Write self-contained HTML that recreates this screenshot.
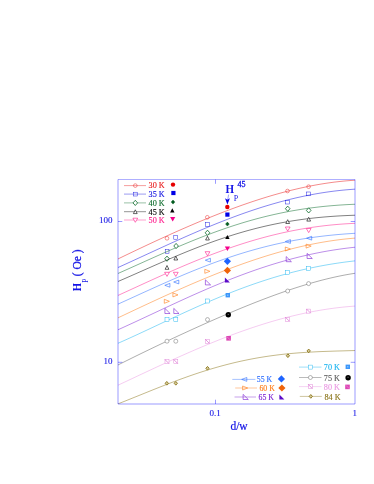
<!DOCTYPE html><html><head><meta charset="utf-8"><title>chart</title><style>html,body{margin:0;padding:0;background:#fff}svg text{white-space:pre}svg{will-change:transform;opacity:0.999}</style></head><body><svg width="374" height="484" viewBox="0 0 374 484" style="display:block">
<rect width="374" height="484" fill="#fff"/>
<defs><clipPath id="cp"><rect x="118.0" y="179.5" width="237.0" height="224.5"/></clipPath></defs>
<path d="M118.0 258.94L121.0 257.49L124.0 256.04L127.0 254.60L130.0 253.16L133.0 251.73L136.0 250.30L139.0 248.87L142.0 247.46L145.0 246.04L148.0 244.64L151.0 243.23L154.0 241.84L157.0 240.45L160.0 239.07L163.0 237.70L166.0 236.33L169.0 234.97L172.0 233.62L175.0 232.28L178.0 230.95L181.0 229.62L184.0 228.31L187.0 227.01L190.0 225.71L193.0 224.43L196.0 223.15L199.0 221.89L202.0 220.64L205.0 219.40L208.0 218.17L211.0 216.96L214.0 215.76L217.0 214.57L220.0 213.39L223.0 212.23L226.0 211.08L229.0 209.95L232.0 208.83L235.0 207.72L238.0 206.63L241.0 205.56L244.0 204.50L247.0 203.46L250.0 202.44L253.0 201.43L256.0 200.44L259.0 199.47L262.0 198.52L265.0 197.59L268.0 196.67L271.0 195.78L274.0 194.90L277.0 194.05L280.0 193.21L283.0 192.40L286.0 191.61L289.0 190.84L292.0 190.09L295.0 189.36L298.0 188.66L301.0 187.98L304.0 187.33L307.0 186.69L310.0 186.09L313.0 185.51L316.0 184.95L319.0 184.42L322.0 183.92L325.0 183.44L328.0 182.99L331.0 182.57L334.0 182.17L337.0 181.81L340.0 181.47L343.0 181.16L346.0 180.88L349.0 180.63L352.0 180.42L355.0 180.23" stroke="#e81818" stroke-width="0.5" fill="none" clip-path="url(#cp)"/>
<circle cx="167.00" cy="238.30" r="1.85" fill="none" stroke="#e81818" stroke-width="0.45"/>
<circle cx="207.30" cy="217.30" r="1.85" fill="none" stroke="#e81818" stroke-width="0.45"/>
<circle cx="287.50" cy="191.00" r="1.85" fill="none" stroke="#e81818" stroke-width="0.45"/>
<circle cx="308.60" cy="186.70" r="1.85" fill="none" stroke="#e81818" stroke-width="0.45"/>
<path d="M118.0 267.52L121.0 266.17L124.0 264.80L127.0 263.44L130.0 262.07L133.0 260.69L136.0 259.31L139.0 257.93L142.0 256.55L145.0 255.17L148.0 253.78L151.0 252.40L154.0 251.02L157.0 249.64L160.0 248.26L163.0 246.89L166.0 245.52L169.0 244.15L172.0 242.79L175.0 241.44L178.0 240.09L181.0 238.75L184.0 237.42L187.0 236.09L190.0 234.78L193.0 233.47L196.0 232.18L199.0 230.89L202.0 229.61L205.0 228.35L208.0 227.10L211.0 225.86L214.0 224.64L217.0 223.42L220.0 222.23L223.0 221.04L226.0 219.88L229.0 218.72L232.0 217.59L235.0 216.47L238.0 215.37L241.0 214.28L244.0 213.21L247.0 212.16L250.0 211.13L253.0 210.12L256.0 209.13L259.0 208.15L262.0 207.20L265.0 206.27L268.0 205.36L271.0 204.47L274.0 203.60L277.0 202.75L280.0 201.92L283.0 201.12L286.0 200.34L289.0 199.58L292.0 198.85L295.0 198.14L298.0 197.45L301.0 196.79L304.0 196.15L307.0 195.53L310.0 194.94L313.0 194.38L316.0 193.84L319.0 193.32L322.0 192.84L325.0 192.37L328.0 191.93L331.0 191.52L334.0 191.13L337.0 190.77L340.0 190.44L343.0 190.13L346.0 189.85L349.0 189.60L352.0 189.37L355.0 189.17" stroke="#1010e0" stroke-width="0.5" fill="none" clip-path="url(#cp)"/>
<rect x="165.20" y="249.40" width="3.8" height="3.8" fill="none" stroke="#1010e0" stroke-width="0.45"/>
<rect x="173.80" y="235.40" width="3.8" height="3.8" fill="none" stroke="#1010e0" stroke-width="0.45"/>
<rect x="205.60" y="222.60" width="3.8" height="3.8" fill="none" stroke="#1010e0" stroke-width="0.45"/>
<rect x="285.60" y="200.20" width="3.8" height="3.8" fill="none" stroke="#1010e0" stroke-width="0.45"/>
<rect x="306.70" y="192.00" width="3.8" height="3.8" fill="none" stroke="#1010e0" stroke-width="0.45"/>
<path d="M118.0 273.48L121.0 272.15L124.0 270.81L127.0 269.47L130.0 268.13L133.0 266.78L136.0 265.43L139.0 264.08L142.0 262.73L145.0 261.37L148.0 260.02L151.0 258.68L154.0 257.33L157.0 255.99L160.0 254.66L163.0 253.33L166.0 252.01L169.0 250.69L172.0 249.39L175.0 248.09L178.0 246.81L181.0 245.54L184.0 244.27L187.0 243.02L190.0 241.79L193.0 240.56L196.0 239.36L199.0 238.16L202.0 236.98L205.0 235.82L208.0 234.68L211.0 233.55L214.0 232.44L217.0 231.35L220.0 230.27L223.0 229.22L226.0 228.18L229.0 227.17L232.0 226.17L235.0 225.20L238.0 224.25L241.0 223.31L244.0 222.40L247.0 221.51L250.0 220.65L253.0 219.80L256.0 218.98L259.0 218.18L262.0 217.40L265.0 216.65L268.0 215.91L271.0 215.21L274.0 214.52L277.0 213.86L280.0 213.22L283.0 212.60L286.0 212.00L289.0 211.43L292.0 210.89L295.0 210.36L298.0 209.86L301.0 209.38L304.0 208.92L307.0 208.48L310.0 208.07L313.0 207.67L316.0 207.30L319.0 206.95L322.0 206.62L325.0 206.31L328.0 206.02L331.0 205.75L334.0 205.50L337.0 205.27L340.0 205.05L343.0 204.86L346.0 204.68L349.0 204.52L352.0 204.38L355.0 204.25" stroke="#0a6a2a" stroke-width="0.5" fill="none" clip-path="url(#cp)"/>
<path d="M164.70 258.70L167.00 256.10L169.30 258.70L167.00 261.30Z" fill="#fff" stroke="#0a6a2a" stroke-width="0.8"/>
<path d="M173.80 246.00L176.10 243.40L178.40 246.00L176.10 248.60Z" fill="#fff" stroke="#0a6a2a" stroke-width="0.8"/>
<path d="M205.20 232.80L207.50 230.20L209.80 232.80L207.50 235.40Z" fill="#fff" stroke="#0a6a2a" stroke-width="0.8"/>
<path d="M285.40 208.70L287.70 206.10L290.00 208.70L287.70 211.30Z" fill="#fff" stroke="#0a6a2a" stroke-width="0.8"/>
<path d="M306.40 210.40L308.70 207.80L311.00 210.40L308.70 213.00Z" fill="#fff" stroke="#0a6a2a" stroke-width="0.8"/>
<path d="M118.0 281.49L121.0 280.20L124.0 278.90L127.0 277.59L130.0 276.27L133.0 274.95L136.0 273.63L139.0 272.30L142.0 270.98L145.0 269.65L148.0 268.32L151.0 267.00L154.0 265.68L157.0 264.36L160.0 263.05L163.0 261.74L166.0 260.44L169.0 259.15L172.0 257.87L175.0 256.60L178.0 255.34L181.0 254.09L184.0 252.85L187.0 251.62L190.0 250.41L193.0 249.22L196.0 248.04L199.0 246.87L202.0 245.72L205.0 244.59L208.0 243.47L211.0 242.38L214.0 241.30L217.0 240.24L220.0 239.21L223.0 238.19L226.0 237.19L229.0 236.21L232.0 235.26L235.0 234.32L238.0 233.41L241.0 232.52L244.0 231.66L247.0 230.81L250.0 229.99L253.0 229.19L256.0 228.42L259.0 227.67L262.0 226.94L265.0 226.23L268.0 225.55L271.0 224.90L274.0 224.26L277.0 223.65L280.0 223.06L283.0 222.50L286.0 221.96L289.0 221.44L292.0 220.95L295.0 220.48L298.0 220.03L301.0 219.60L304.0 219.19L307.0 218.81L310.0 218.44L313.0 218.10L316.0 217.78L319.0 217.48L322.0 217.20L325.0 216.93L328.0 216.69L331.0 216.46L334.0 216.25L337.0 216.06L340.0 215.88L343.0 215.72L346.0 215.58L349.0 215.44L352.0 215.33L355.0 215.22" stroke="#000000" stroke-width="0.5" fill="none" clip-path="url(#cp)"/>
<path d="M165.10 269.30L168.90 269.30L167.00 265.50Z" fill="#fff" stroke="#000000" stroke-width="0.6"/>
<path d="M173.90 260.00L177.70 260.00L175.80 256.20Z" fill="#fff" stroke="#000000" stroke-width="0.6"/>
<path d="M205.60 240.00L209.40 240.00L207.50 236.20Z" fill="#fff" stroke="#000000" stroke-width="0.6"/>
<path d="M285.80 223.50L289.60 223.50L287.70 219.70Z" fill="#fff" stroke="#000000" stroke-width="0.6"/>
<path d="M306.80 221.10L310.60 221.10L308.70 217.30Z" fill="#fff" stroke="#000000" stroke-width="0.6"/>
<path d="M118.0 295.44L121.0 294.07L124.0 292.70L127.0 291.33L130.0 289.95L133.0 288.57L136.0 287.19L139.0 285.82L142.0 284.44L145.0 283.07L148.0 281.70L151.0 280.33L154.0 278.97L157.0 277.61L160.0 276.26L163.0 274.92L166.0 273.58L169.0 272.25L172.0 270.93L175.0 269.62L178.0 268.31L181.0 267.02L184.0 265.74L187.0 264.47L190.0 263.22L193.0 261.97L196.0 260.74L199.0 259.53L202.0 258.32L205.0 257.14L208.0 255.96L211.0 254.81L214.0 253.67L217.0 252.54L220.0 251.44L223.0 250.35L226.0 249.28L229.0 248.22L232.0 247.19L235.0 246.17L238.0 245.18L241.0 244.20L244.0 243.24L247.0 242.31L250.0 241.39L253.0 240.50L256.0 239.62L259.0 238.77L262.0 237.94L265.0 237.13L268.0 236.34L271.0 235.57L274.0 234.83L277.0 234.11L280.0 233.41L283.0 232.73L286.0 232.08L289.0 231.45L292.0 230.84L295.0 230.25L298.0 229.69L301.0 229.15L304.0 228.64L307.0 228.14L310.0 227.67L313.0 227.23L316.0 226.80L319.0 226.40L322.0 226.02L325.0 225.67L328.0 225.34L331.0 225.03L334.0 224.74L337.0 224.47L340.0 224.23L343.0 224.01L346.0 223.81L349.0 223.63L352.0 223.48L355.0 223.34" stroke="#ff1a8c" stroke-width="0.5" fill="none" clip-path="url(#cp)"/>
<path d="M164.60 272.30L169.40 272.30L167.00 276.40Z" fill="#fff" stroke="#ff1a8c" stroke-width="0.6"/>
<path d="M173.40 272.30L178.20 272.30L175.80 276.40Z" fill="#fff" stroke="#ff1a8c" stroke-width="0.6"/>
<path d="M205.10 251.70L209.90 251.70L207.50 255.80Z" fill="#fff" stroke="#ff1a8c" stroke-width="0.6"/>
<path d="M285.30 227.00L290.10 227.00L287.70 231.10Z" fill="#fff" stroke="#ff1a8c" stroke-width="0.6"/>
<path d="M306.30 228.50L311.10 228.50L308.70 232.60Z" fill="#fff" stroke="#ff1a8c" stroke-width="0.6"/>
<path d="M118.0 304.13L121.0 302.77L124.0 301.41L127.0 300.05L130.0 298.68L133.0 297.31L136.0 295.94L139.0 294.57L142.0 293.20L145.0 291.84L148.0 290.47L151.0 289.12L154.0 287.76L157.0 286.41L160.0 285.07L163.0 283.73L166.0 282.41L169.0 281.09L172.0 279.78L175.0 278.48L178.0 277.19L181.0 275.91L184.0 274.64L187.0 273.39L190.0 272.15L193.0 270.92L196.0 269.71L199.0 268.51L202.0 267.33L205.0 266.17L208.0 265.02L211.0 263.89L214.0 262.77L217.0 261.68L220.0 260.60L223.0 259.54L226.0 258.50L229.0 257.47L232.0 256.47L235.0 255.49L238.0 254.53L241.0 253.58L244.0 252.66L247.0 251.76L250.0 250.88L253.0 250.02L256.0 249.19L259.0 248.37L262.0 247.58L265.0 246.81L268.0 246.06L271.0 245.33L274.0 244.62L277.0 243.93L280.0 243.27L283.0 242.63L286.0 242.01L289.0 241.41L292.0 240.83L295.0 240.28L298.0 239.75L301.0 239.23L304.0 238.74L307.0 238.27L310.0 237.82L313.0 237.39L316.0 236.98L319.0 236.59L322.0 236.22L325.0 235.86L328.0 235.53L331.0 235.22L334.0 234.92L337.0 234.64L340.0 234.38L343.0 234.13L346.0 233.90L349.0 233.69L352.0 233.49L355.0 233.31" stroke="#2a6cff" stroke-width="0.5" fill="none" clip-path="url(#cp)"/>
<path d="M169.90 283.40L169.90 287.20L164.80 285.30Z" fill="none" stroke="#2a6cff" stroke-width="0.6"/>
<path d="M178.80 280.10L178.80 283.90L173.70 282.00Z" fill="none" stroke="#2a6cff" stroke-width="0.6"/>
<path d="M210.40 258.30L210.40 262.10L205.30 260.20Z" fill="none" stroke="#2a6cff" stroke-width="0.6"/>
<path d="M290.40 239.60L290.40 243.40L285.30 241.50Z" fill="none" stroke="#2a6cff" stroke-width="0.6"/>
<path d="M311.70 236.30L311.70 240.10L306.60 238.20Z" fill="none" stroke="#2a6cff" stroke-width="0.6"/>
<path d="M118.0 317.84L121.0 316.42L124.0 315.00L127.0 313.58L130.0 312.17L133.0 310.75L136.0 309.34L139.0 307.93L142.0 306.52L145.0 305.12L148.0 303.72L151.0 302.33L154.0 300.94L157.0 299.56L160.0 298.18L163.0 296.81L166.0 295.44L169.0 294.08L172.0 292.73L175.0 291.38L178.0 290.05L181.0 288.72L184.0 287.40L187.0 286.09L190.0 284.78L193.0 283.49L196.0 282.21L199.0 280.94L202.0 279.68L205.0 278.43L208.0 277.19L211.0 275.97L214.0 274.75L217.0 273.55L220.0 272.37L223.0 271.19L226.0 270.03L229.0 268.89L232.0 267.76L235.0 266.64L238.0 265.54L241.0 264.46L244.0 263.39L247.0 262.34L250.0 261.30L253.0 260.28L256.0 259.28L259.0 258.30L262.0 257.33L265.0 256.38L268.0 255.45L271.0 254.54L274.0 253.65L277.0 252.78L280.0 251.93L283.0 251.10L286.0 250.29L289.0 249.50L292.0 248.74L295.0 247.99L298.0 247.27L301.0 246.57L304.0 245.89L307.0 245.23L310.0 244.60L313.0 243.99L316.0 243.41L319.0 242.84L322.0 242.31L325.0 241.80L328.0 241.31L331.0 240.85L334.0 240.41L337.0 240.00L340.0 239.62L343.0 239.26L346.0 238.93L349.0 238.63L352.0 238.36L355.0 238.11" stroke="#ff7a14" stroke-width="0.5" fill="none" clip-path="url(#cp)"/>
<path d="M164.30 299.30L164.30 303.30L169.40 301.30Z" fill="none" stroke="#ff7a14" stroke-width="0.6"/>
<path d="M172.90 292.90L172.90 296.90L178.00 294.90Z" fill="none" stroke="#ff7a14" stroke-width="0.6"/>
<path d="M204.80 269.30L204.80 273.30L209.90 271.30Z" fill="none" stroke="#ff7a14" stroke-width="0.6"/>
<path d="M285.30 247.00L285.30 251.00L290.40 249.00Z" fill="none" stroke="#ff7a14" stroke-width="0.6"/>
<path d="M306.10 244.10L306.10 248.10L311.20 246.10Z" fill="none" stroke="#ff7a14" stroke-width="0.6"/>
<path d="M118.0 329.76L121.0 328.41L124.0 327.04L127.0 325.67L130.0 324.29L133.0 322.91L136.0 321.52L139.0 320.12L142.0 318.72L145.0 317.32L148.0 315.92L151.0 314.52L154.0 313.11L157.0 311.71L160.0 310.30L163.0 308.90L166.0 307.50L169.0 306.11L172.0 304.71L175.0 303.33L178.0 301.95L181.0 300.57L184.0 299.20L187.0 297.84L190.0 296.48L193.0 295.14L196.0 293.80L199.0 292.48L202.0 291.16L205.0 289.86L208.0 288.56L211.0 287.28L214.0 286.01L217.0 284.75L220.0 283.51L223.0 282.28L226.0 281.07L229.0 279.87L232.0 278.68L235.0 277.52L238.0 276.36L241.0 275.23L244.0 274.11L247.0 273.01L250.0 271.93L253.0 270.86L256.0 269.81L259.0 268.79L262.0 267.78L265.0 266.79L268.0 265.82L271.0 264.87L274.0 263.94L277.0 263.04L280.0 262.15L283.0 261.28L286.0 260.44L289.0 259.62L292.0 258.81L295.0 258.04L298.0 257.28L301.0 256.54L304.0 255.83L307.0 255.14L310.0 254.47L313.0 253.83L316.0 253.21L319.0 252.61L322.0 252.03L325.0 251.48L328.0 250.95L331.0 250.45L334.0 249.96L337.0 249.50L340.0 249.07L343.0 248.65L346.0 248.26L349.0 247.90L352.0 247.55L355.0 247.23" stroke="#7a1ed2" stroke-width="0.5" fill="none" clip-path="url(#cp)"/>
<path d="M164.90 308.40L164.90 313.50L170.10 313.50Z" fill="none" stroke="#7a1ed2" stroke-width="0.6"/>
<path d="M173.80 308.40L173.80 313.50L179.00 313.50Z" fill="none" stroke="#7a1ed2" stroke-width="0.6"/>
<path d="M205.40 279.80L205.40 284.90L210.60 284.90Z" fill="none" stroke="#7a1ed2" stroke-width="0.6"/>
<path d="M286.20 256.60L286.20 261.70L291.40 261.70Z" fill="none" stroke="#7a1ed2" stroke-width="0.6"/>
<path d="M307.10 253.40L307.10 258.50L312.30 258.50Z" fill="none" stroke="#7a1ed2" stroke-width="0.6"/>
<path d="M118.0 343.29L121.0 341.96L124.0 340.62L127.0 339.27L130.0 337.91L133.0 336.54L136.0 335.16L139.0 333.77L142.0 332.38L145.0 330.98L148.0 329.58L151.0 328.17L154.0 326.76L157.0 325.35L160.0 323.94L163.0 322.53L166.0 321.12L169.0 319.72L172.0 318.32L175.0 316.92L178.0 315.52L181.0 314.14L184.0 312.76L187.0 311.38L190.0 310.02L193.0 308.66L196.0 307.31L199.0 305.97L202.0 304.65L205.0 303.33L208.0 302.03L211.0 300.74L214.0 299.46L217.0 298.20L220.0 296.95L223.0 295.72L226.0 294.50L229.0 293.30L232.0 292.11L235.0 290.94L238.0 289.79L241.0 288.66L244.0 287.54L247.0 286.44L250.0 285.36L253.0 284.31L256.0 283.27L259.0 282.25L262.0 281.25L265.0 280.27L268.0 279.31L271.0 278.37L274.0 277.45L277.0 276.56L280.0 275.68L283.0 274.83L286.0 274.00L289.0 273.19L292.0 272.40L295.0 271.64L298.0 270.90L301.0 270.17L304.0 269.48L307.0 268.80L310.0 268.14L313.0 267.51L316.0 266.90L319.0 266.31L322.0 265.74L325.0 265.19L328.0 264.67L331.0 264.16L334.0 263.68L337.0 263.22L340.0 262.78L343.0 262.35L346.0 261.95L349.0 261.57L352.0 261.21L355.0 260.87" stroke="#1ab4f0" stroke-width="0.5" fill="none" clip-path="url(#cp)"/>
<rect x="165.00" y="317.60" width="4.0" height="4.0" fill="#fff" stroke="#1ab4f0" stroke-width="0.45"/>
<rect x="173.80" y="317.60" width="4.0" height="4.0" fill="#fff" stroke="#1ab4f0" stroke-width="0.45"/>
<rect x="205.50" y="299.00" width="4.0" height="4.0" fill="#fff" stroke="#1ab4f0" stroke-width="0.45"/>
<rect x="285.70" y="270.60" width="4.0" height="4.0" fill="#fff" stroke="#1ab4f0" stroke-width="0.45"/>
<rect x="306.60" y="266.60" width="4.0" height="4.0" fill="#fff" stroke="#1ab4f0" stroke-width="0.45"/>
<path d="M118.0 364.96L121.0 363.46L124.0 361.96L127.0 360.47L130.0 358.99L133.0 357.51L136.0 356.03L139.0 354.57L142.0 353.10L145.0 351.65L148.0 350.20L151.0 348.75L154.0 347.31L157.0 345.88L160.0 344.45L163.0 343.02L166.0 341.60L169.0 340.19L172.0 338.78L175.0 337.38L178.0 335.98L181.0 334.59L184.0 333.21L187.0 331.83L190.0 330.45L193.0 329.09L196.0 327.73L199.0 326.37L202.0 325.02L205.0 323.68L208.0 322.35L211.0 321.02L214.0 319.70L217.0 318.39L220.0 317.09L223.0 315.79L226.0 314.50L229.0 313.23L232.0 311.96L235.0 310.70L238.0 309.45L241.0 308.20L244.0 306.97L247.0 305.76L250.0 304.55L253.0 303.35L256.0 302.17L259.0 301.00L262.0 299.84L265.0 298.69L268.0 297.56L271.0 296.44L274.0 295.34L277.0 294.25L280.0 293.18L283.0 292.12L286.0 291.08L289.0 290.06L292.0 289.06L295.0 288.07L298.0 287.11L301.0 286.16L304.0 285.23L307.0 284.33L310.0 283.45L313.0 282.58L316.0 281.75L319.0 280.93L322.0 280.14L325.0 279.38L328.0 278.64L331.0 277.93L334.0 277.24L337.0 276.58L340.0 275.96L343.0 275.36L346.0 274.79L349.0 274.25L352.0 273.75L355.0 273.28" stroke="#5c5c5c" stroke-width="0.5" fill="none" clip-path="url(#cp)"/>
<circle cx="167.00" cy="341.20" r="2.0" fill="#fff" stroke="#5c5c5c" stroke-width="0.45"/>
<circle cx="175.80" cy="341.20" r="2.0" fill="#fff" stroke="#5c5c5c" stroke-width="0.45"/>
<circle cx="207.50" cy="319.60" r="2.0" fill="#fff" stroke="#5c5c5c" stroke-width="0.45"/>
<circle cx="287.70" cy="291.00" r="2.0" fill="#fff" stroke="#5c5c5c" stroke-width="0.45"/>
<circle cx="308.60" cy="283.60" r="2.0" fill="#fff" stroke="#5c5c5c" stroke-width="0.45"/>
<path d="M118.0 385.22L121.0 383.81L124.0 382.40L127.0 380.99L130.0 379.58L133.0 378.16L136.0 376.75L139.0 375.34L142.0 373.93L145.0 372.52L148.0 371.12L151.0 369.72L154.0 368.32L157.0 366.92L160.0 365.54L163.0 364.15L166.0 362.77L169.0 361.40L172.0 360.04L175.0 358.68L178.0 357.33L181.0 355.99L184.0 354.66L187.0 353.33L190.0 352.02L193.0 350.72L196.0 349.42L199.0 348.14L202.0 346.87L205.0 345.61L208.0 344.36L211.0 343.13L214.0 341.91L217.0 340.70L220.0 339.51L223.0 338.33L226.0 337.17L229.0 336.02L232.0 334.89L235.0 333.77L238.0 332.67L241.0 331.59L244.0 330.52L247.0 329.48L250.0 328.45L253.0 327.43L256.0 326.44L259.0 325.47L262.0 324.51L265.0 323.57L268.0 322.66L271.0 321.76L274.0 320.89L277.0 320.03L280.0 319.20L283.0 318.39L286.0 317.60L289.0 316.84L292.0 316.09L295.0 315.37L298.0 314.67L301.0 313.99L304.0 313.34L307.0 312.71L310.0 312.11L313.0 311.53L316.0 310.98L319.0 310.44L322.0 309.94L325.0 309.46L328.0 309.00L331.0 308.58L334.0 308.17L337.0 307.80L340.0 307.44L343.0 307.12L346.0 306.82L349.0 306.55L352.0 306.31L355.0 306.09" stroke="#ea98e2" stroke-width="0.5" fill="none" clip-path="url(#cp)"/>
<rect x="165.00" y="359.60" width="4.0" height="4.0" fill="#fff" stroke="#de7cd6" stroke-width="0.45"/><path d="M165.00 359.60L169.00 363.60" stroke="#de7cd6" stroke-width="0.8"/>
<rect x="173.80" y="359.60" width="4.0" height="4.0" fill="#fff" stroke="#de7cd6" stroke-width="0.45"/><path d="M173.80 359.60L177.80 363.60" stroke="#de7cd6" stroke-width="0.8"/>
<rect x="205.50" y="339.50" width="4.0" height="4.0" fill="#fff" stroke="#de7cd6" stroke-width="0.45"/><path d="M205.50 339.50L209.50 343.50" stroke="#de7cd6" stroke-width="0.8"/>
<rect x="285.70" y="317.50" width="4.0" height="4.0" fill="#fff" stroke="#de7cd6" stroke-width="0.45"/><path d="M285.70 317.50L289.70 321.50" stroke="#de7cd6" stroke-width="0.8"/>
<rect x="306.60" y="309.10" width="4.0" height="4.0" fill="#fff" stroke="#de7cd6" stroke-width="0.45"/><path d="M306.60 309.10L310.60 313.10" stroke="#de7cd6" stroke-width="0.8"/>
<path d="M118.0 403.86L121.0 402.68L124.0 401.50L127.0 400.30L130.0 399.10L133.0 397.89L136.0 396.68L139.0 395.47L142.0 394.25L145.0 393.04L148.0 391.83L151.0 390.62L154.0 389.42L157.0 388.23L160.0 387.04L163.0 385.86L166.0 384.69L169.0 383.53L172.0 382.38L175.0 381.25L178.0 380.13L181.0 379.03L184.0 377.94L187.0 376.87L190.0 375.81L193.0 374.78L196.0 373.76L199.0 372.76L202.0 371.79L205.0 370.83L208.0 369.90L211.0 368.99L214.0 368.10L217.0 367.23L220.0 366.39L223.0 365.57L226.0 364.77L229.0 364.00L232.0 363.26L235.0 362.53L238.0 361.84L241.0 361.17L244.0 360.52L247.0 359.90L250.0 359.30L253.0 358.73L256.0 358.18L259.0 357.65L262.0 357.16L265.0 356.68L268.0 356.23L271.0 355.80L274.0 355.40L277.0 355.01L280.0 354.65L283.0 354.31L286.0 353.99L289.0 353.70L292.0 353.42L295.0 353.16L298.0 352.92L301.0 352.69L304.0 352.49L307.0 352.30L310.0 352.12L313.0 351.96L316.0 351.81L319.0 351.67L322.0 351.54L325.0 351.43L328.0 351.32L331.0 351.22L334.0 351.12L337.0 351.03L340.0 350.95L343.0 350.86L346.0 350.78L349.0 350.69L352.0 350.61L355.0 350.52" stroke="#8a7418" stroke-width="0.5" fill="none" clip-path="url(#cp)"/>
<path d="M165.15 383.30L166.80 381.45L168.45 383.30L166.80 385.15Z" fill="#d6cc9c" stroke="#8a7418" stroke-width="0.9"/>
<path d="M174.15 383.30L175.80 381.45L177.45 383.30L175.80 385.15Z" fill="#d6cc9c" stroke="#8a7418" stroke-width="0.9"/>
<path d="M205.85 368.30L207.50 366.45L209.15 368.30L207.50 370.15Z" fill="#d6cc9c" stroke="#8a7418" stroke-width="0.9"/>
<path d="M286.25 355.70L287.90 353.85L289.55 355.70L287.90 357.55Z" fill="#d6cc9c" stroke="#8a7418" stroke-width="0.9"/>
<path d="M307.05 350.90L308.70 349.05L310.35 350.90L308.70 352.75Z" fill="#d6cc9c" stroke="#8a7418" stroke-width="0.9"/>
<g stroke="#0000ff" stroke-width="0.4" fill="none">
<path d="M118.0 179.5V404.0H355.0V179.5"/><path d="M118.0 179.5H355.0" stroke-width="0.32"/>
<path d="M118.0 221.5h4.3M355.0 221.5h-4.3"/>
<path d="M118.0 362.3h4.3M355.0 362.3h-4.3"/>
<path d="M215.5 404.0v-4.3M215.5 179.5v4.3"/>
</g>
<circle cx="227.30" cy="207.00" r="2.2" fill="#e60000"/>
<rect x="225.30" y="212.50" width="4.2" height="4.2" fill="#0000e6"/>
<path d="M225.60 224.10L227.40 222.10L229.20 224.10L227.40 226.10Z" fill="#005a1e" stroke="#005a1e" stroke-width="0.5" stroke-linejoin="round"/>
<path d="M225.20 239.10L229.60 239.10L227.40 234.90Z" fill="#000"/>
<path d="M224.80 246.50L230.00 246.50L227.40 251.10Z" fill="#f5008c"/>
<path d="M223.80 261.30L227.40 257.70L231.00 261.30L227.40 264.90Z" fill="#1e64ff"/>
<path d="M223.80 270.40L227.40 266.80L231.00 270.40L227.40 274.00Z" fill="#f0640a"/>
<path d="M224.90 277.50L224.90 282.50L229.90 282.50Z" fill="#5a0ac8"/>
<rect x="225.60" y="293.00" width="4.4" height="4.4" fill="#3c96fa"/><rect x="227.20" y="294.60" width="1.2" height="1.2" fill="#a0d2ff"/>
<circle cx="228.30" cy="314.80" r="2.7" fill="#000"/><rect x="227.60" y="313.90" width="1.4" height="0.7" fill="#888"/>
<rect x="226.30" y="336.00" width="4.6" height="4.6" fill="#dc46b4"/><path d="M227.00 336.70L230.20 339.90" stroke="#f0a0e0" stroke-width="0.6"/>
<path d="M124 185.6H146" stroke="#e81818" stroke-width="0.42"/>
<circle cx="135.30" cy="185.60" r="1.85" fill="none" stroke="#e81818" stroke-width="0.45"/>
<text x="148.6" y="188.40" font-family="Liberation Serif, serif" font-size="8.2" fill="#e81818" stroke="#e81818" stroke-width="0.12">30 K</text>
<circle cx="173.00" cy="184.60" r="2.2" fill="#e60000"/>
<path d="M124 194.1H146" stroke="#1010e0" stroke-width="0.42"/>
<rect x="133.40" y="192.20" width="3.8" height="3.8" fill="none" stroke="#1010e0" stroke-width="0.45"/>
<text x="148.6" y="196.90" font-family="Liberation Serif, serif" font-size="8.2" fill="#1010e0" stroke="#1010e0" stroke-width="0.12">35 K</text>
<rect x="171.30" y="190.90" width="4.2" height="4.2" fill="#0000e6"/>
<path d="M124 202.9H146" stroke="#0a6a2a" stroke-width="0.42"/>
<path d="M133.00 202.90L135.30 200.30L137.60 202.90L135.30 205.50Z" fill="#fff" stroke="#0a6a2a" stroke-width="0.8"/>
<text x="148.6" y="205.70" font-family="Liberation Serif, serif" font-size="8.2" fill="#0a6a2a" stroke="#0a6a2a" stroke-width="0.12">40 K</text>
<path d="M171.20 202.10L173.00 200.10L174.80 202.10L173.00 204.10Z" fill="#005a1e" stroke="#005a1e" stroke-width="0.5" stroke-linejoin="round"/>
<path d="M124 211.7H146" stroke="#000000" stroke-width="0.42"/>
<path d="M133.40 213.60L137.20 213.60L135.30 209.80Z" fill="#fff" stroke="#000000" stroke-width="0.6"/>
<text x="148.6" y="214.50" font-family="Liberation Serif, serif" font-size="8.2" fill="#000000" stroke="#000000" stroke-width="0.12">45 K</text>
<path d="M170.10 212.40L174.50 212.40L172.30 208.20Z" fill="#000"/>
<path d="M124 220.0H146" stroke="#ff1a8c" stroke-width="0.42"/>
<path d="M132.90 218.20L137.70 218.20L135.30 222.30Z" fill="#fff" stroke="#ff1a8c" stroke-width="0.6"/>
<text x="148.6" y="222.80" font-family="Liberation Serif, serif" font-size="8.2" fill="#ff1a8c" stroke="#ff1a8c" stroke-width="0.12">50 K</text>
<path d="M170.10 216.90L175.30 216.90L172.70 221.50Z" fill="#f5008c"/>
<path d="M232.3 379.4H255.4" stroke="#2a6cff" stroke-width="0.42"/>
<path d="M246.80 377.50L246.80 381.30L241.70 379.40Z" fill="none" stroke="#2a6cff" stroke-width="0.6"/>
<text x="256.8" y="382.20" font-family="Liberation Serif, serif" font-size="7.8" fill="#2a6cff" stroke="#2a6cff" stroke-width="0.12">55 K</text>
<path d="M277.80 378.90L281.40 375.30L285.00 378.90L281.40 382.50Z" fill="#1e64ff"/>
<path d="M235.2 388.0H257.0" stroke="#ff7a14" stroke-width="0.42"/>
<path d="M242.60 386.00L242.60 390.00L247.70 388.00Z" fill="none" stroke="#ff7a14" stroke-width="0.6"/>
<text x="259.4" y="390.80" font-family="Liberation Serif, serif" font-size="7.8" fill="#ff7a14" stroke="#ff7a14" stroke-width="0.12">60 K</text>
<path d="M278.30 388.00L281.90 384.40L285.50 388.00L281.90 391.60Z" fill="#f0640a"/>
<path d="M234.5 397.0H256.0" stroke="#7a1ed2" stroke-width="0.42"/>
<path d="M243.10 394.40L243.10 399.50L248.30 399.50Z" fill="none" stroke="#7a1ed2" stroke-width="0.6"/>
<text x="258.5" y="399.80" font-family="Liberation Serif, serif" font-size="7.8" fill="#7a1ed2" stroke="#7a1ed2" stroke-width="0.12">65 K</text>
<path d="M279.40 394.50L279.40 399.50L284.40 399.50Z" fill="#5a0ac8"/>
<path d="M299.0 367.1H321.5" stroke="#1ab4f0" stroke-width="0.42"/>
<rect x="308.50" y="365.10" width="4.0" height="4.0" fill="#fff" stroke="#1ab4f0" stroke-width="0.45"/>
<text x="323.8" y="369.90" font-family="Liberation Serif, serif" font-size="8.2" fill="#1ab4f0" stroke="#1ab4f0" stroke-width="0.12">70 K</text>
<rect x="345.60" y="364.60" width="4.4" height="4.4" fill="#3c96fa"/><rect x="347.20" y="366.20" width="1.2" height="1.2" fill="#a0d2ff"/>
<path d="M299.0 377.5H321.5" stroke="#5c5c5c" stroke-width="0.42"/>
<circle cx="310.40" cy="377.50" r="2.0" fill="#fff" stroke="#5c5c5c" stroke-width="0.45"/>
<text x="323.8" y="380.80" font-family="Liberation Serif, serif" font-size="8.2" fill="#5c5c5c" stroke="#5c5c5c" stroke-width="0.12">75 K</text>
<circle cx="348.10" cy="377.70" r="2.7" fill="#000"/><rect x="347.40" y="376.80" width="1.4" height="0.7" fill="#888"/>
<path d="M299.0 386.6H321.5" stroke="#ea98e2" stroke-width="0.42"/>
<rect x="308.40" y="384.60" width="4.0" height="4.0" fill="#fff" stroke="#de7cd6" stroke-width="0.45"/><path d="M308.40 384.60L312.40 388.60" stroke="#de7cd6" stroke-width="0.8"/>
<text x="323.8" y="389.90" font-family="Liberation Serif, serif" font-size="8.2" fill="#ea98e2" stroke="#ea98e2" stroke-width="0.12">80 K</text>
<rect x="345.20" y="384.60" width="4.6" height="4.6" fill="#dc46b4"/><path d="M345.90 385.30L349.10 388.50" stroke="#f0a0e0" stroke-width="0.6"/>
<path d="M299.8 396.4H321.8" stroke="#8a7418" stroke-width="0.42"/>
<path d="M309.15 396.40L310.80 394.55L312.45 396.40L310.80 398.25Z" fill="#d6cc9c" stroke="#8a7418" stroke-width="0.9"/>
<text x="324.5" y="399.70" font-family="Liberation Serif, serif" font-size="8.2" fill="#8a7418" stroke="#8a7418" stroke-width="0.12">84 K</text>
<text x="112.6" y="223.2" text-anchor="end" font-family="Liberation Serif, serif" font-size="9" fill="#1414e6" stroke="#1414e6" stroke-width="0.1">100</text>
<text x="112.6" y="364.0" text-anchor="end" font-family="Liberation Serif, serif" font-size="9" fill="#1414e6" stroke="#1414e6" stroke-width="0.1">10</text>
<text x="215.0" y="415.7" text-anchor="middle" font-family="Liberation Serif, serif" font-size="9" fill="#1414e6" stroke="#1414e6" stroke-width="0.1">0.1</text>
<text x="354.8" y="415.7" text-anchor="middle" font-family="Liberation Serif, serif" font-size="9" fill="#1414e6" stroke="#1414e6" stroke-width="0.1">1</text>
<text x="239" y="429.8" text-anchor="middle" font-family="Liberation Serif, serif" font-size="11.5" fill="#1414e6" stroke="#1414e6" stroke-width="0.2">d/w</text>
<g transform="translate(80.8 291.2) rotate(-90)" font-family="Liberation Serif, serif" fill="#1414e6"><text transform="scale(0.86 1)" x="0" y="0" font-size="12.4" font-weight="bold">H</text><text x="8.5" y="7.4" font-size="7.5">P</text><text x="15" y="0" font-size="11.5" stroke="#1414e6" stroke-width="0.3" xml:space="preserve">( Oe )</text></g>
<text transform="translate(225.5 192.6) scale(0.92 1)" font-family="Liberation Serif, serif" font-size="12" font-weight="bold" fill="#1414e6">H</text>
<text x="237.6" y="186.7" font-family="Liberation Serif, serif" font-size="8" fill="#1414e6" stroke="#1414e6" stroke-width="0.3">45</text>
<text x="233.8" y="200.5" font-family="Liberation Serif, serif" font-size="8" fill="#1414e6">P</text>
<path d="M228.6 194.6L227.6 200.5" stroke="#5a5aff" stroke-width="0.6"/>
<path d="M227.4 204.6L225.0 198.3L227.4 199.8L229.9 198.3Z" fill="#0000e6"/>
</svg></body></html>
